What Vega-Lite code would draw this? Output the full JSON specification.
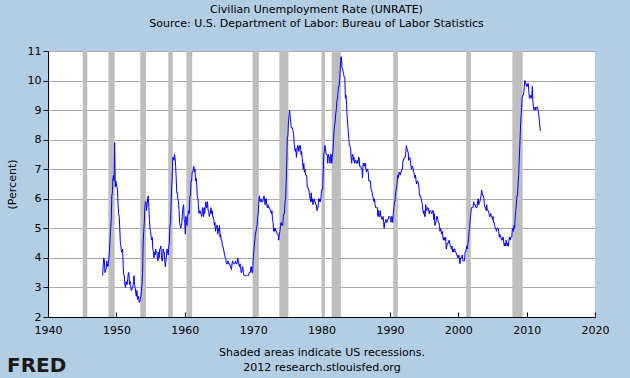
{
"$schema": "https://vega.github.io/schema/vega-lite/v6.json",
"width": 547, "height": 266,
"autosize": {"type": "none"},
"padding": {"left": 48, "top": 51, "right": 35, "bottom": 61},
"background": "#B3CDE3",
"config": {"view": {"stroke": null, "fill": "white"}, "font": "DejaVu Sans"},
"title": {"text": "Civilian Unemployment Rate (UNRATE)", "subtitle": "Source: U.S. Department of Labor: Bureau of Labor Statistics", "fontSize": 11, "fontWeight": "normal", "subtitleFontSize": 11, "color": "black", "subtitleColor": "black", "anchor": "middle", "offset": 16, "subtitlePadding": 3, "dx": -5, "font": "DejaVu Sans", "subtitleFont": "DejaVu Sans"},
"datasets": {
"rec": [
{"s":"1945-02","e":"1945-10"},{"s":"1948-11","e":"1949-10"},{"s":"1953-07","e":"1954-05"},{"s":"1957-08","e":"1958-04"},{"s":"1960-04","e":"1961-02"},{"s":"1969-12","e":"1970-11"},{"s":"1973-11","e":"1975-03"},{"s":"1980-01","e":"1980-07"},{"s":"1981-07","e":"1982-11"},{"s":"1990-07","e":"1991-03"},{"s":"2001-03","e":"2001-11"},{"s":"2007-12","e":"2009-06"}
],
"un": [
{"d":"1948-01","v":3.4},{"d":"1948-02","v":3.8},{"d":"1948-03","v":4.0},{"d":"1948-04","v":3.9},{"d":"1948-05","v":3.5},{"d":"1948-06","v":3.6},{"d":"1948-07","v":3.6},{"d":"1948-08","v":3.9},{"d":"1948-09","v":3.8},{"d":"1948-10","v":3.7},{"d":"1948-11","v":3.8},{"d":"1948-12","v":4.0},
{"d":"1949-01","v":4.3},{"d":"1949-02","v":4.7},{"d":"1949-03","v":5.0},{"d":"1949-04","v":5.3},{"d":"1949-05","v":6.1},{"d":"1949-06","v":6.2},{"d":"1949-07","v":6.7},{"d":"1949-08","v":6.8},{"d":"1949-09","v":6.6},{"d":"1949-10","v":7.9},{"d":"1949-11","v":6.4},{"d":"1949-12","v":6.6},
{"d":"1950-01","v":6.5},{"d":"1950-02","v":6.4},{"d":"1950-03","v":6.3},{"d":"1950-04","v":5.8},{"d":"1950-05","v":5.5},{"d":"1950-06","v":5.4},{"d":"1950-07","v":5.0},{"d":"1950-08","v":4.5},{"d":"1950-09","v":4.4},{"d":"1950-10","v":4.2},{"d":"1950-11","v":4.2},{"d":"1950-12","v":4.3},
{"d":"1951-01","v":3.7},{"d":"1951-02","v":3.4},{"d":"1951-03","v":3.4},{"d":"1951-04","v":3.1},{"d":"1951-05","v":3.0},{"d":"1951-06","v":3.2},{"d":"1951-07","v":3.1},{"d":"1951-08","v":3.1},{"d":"1951-09","v":3.3},{"d":"1951-10","v":3.5},{"d":"1951-11","v":3.5},{"d":"1951-12","v":3.1},
{"d":"1952-01","v":3.2},{"d":"1952-02","v":3.1},{"d":"1952-03","v":2.9},{"d":"1952-04","v":2.9},{"d":"1952-05","v":3.0},{"d":"1952-06","v":3.0},{"d":"1952-07","v":3.2},{"d":"1952-08","v":3.4},{"d":"1952-09","v":3.1},{"d":"1952-10","v":3.0},{"d":"1952-11","v":2.8},{"d":"1952-12","v":2.7},
{"d":"1953-01","v":2.9},{"d":"1953-02","v":2.6},{"d":"1953-03","v":2.6},{"d":"1953-04","v":2.7},{"d":"1953-05","v":2.5},{"d":"1953-06","v":2.5},{"d":"1953-07","v":2.6},{"d":"1953-08","v":2.7},{"d":"1953-09","v":2.9},{"d":"1953-10","v":3.1},{"d":"1953-11","v":3.5},{"d":"1953-12","v":4.5},
{"d":"1954-01","v":4.9},{"d":"1954-02","v":5.2},{"d":"1954-03","v":5.7},{"d":"1954-04","v":5.9},{"d":"1954-05","v":5.9},{"d":"1954-06","v":5.6},{"d":"1954-07","v":5.8},{"d":"1954-08","v":6.0},{"d":"1954-09","v":6.1},{"d":"1954-10","v":5.7},{"d":"1954-11","v":5.3},{"d":"1954-12","v":5.0},
{"d":"1955-01","v":4.9},{"d":"1955-02","v":4.7},{"d":"1955-03","v":4.6},{"d":"1955-04","v":4.7},{"d":"1955-05","v":4.3},{"d":"1955-06","v":4.2},{"d":"1955-07","v":4.0},{"d":"1955-08","v":4.2},{"d":"1955-09","v":4.1},{"d":"1955-10","v":4.3},{"d":"1955-11","v":4.2},{"d":"1955-12","v":4.2},
{"d":"1956-01","v":4.0},{"d":"1956-02","v":3.9},{"d":"1956-03","v":4.2},{"d":"1956-04","v":4.0},{"d":"1956-05","v":4.3},{"d":"1956-06","v":4.3},{"d":"1956-07","v":4.4},{"d":"1956-08","v":4.1},{"d":"1956-09","v":3.9},{"d":"1956-10","v":3.9},{"d":"1956-11","v":4.3},{"d":"1956-12","v":4.2},
{"d":"1957-01","v":4.2},{"d":"1957-02","v":3.9},{"d":"1957-03","v":3.7},{"d":"1957-04","v":3.9},{"d":"1957-05","v":4.1},{"d":"1957-06","v":4.3},{"d":"1957-07","v":4.2},{"d":"1957-08","v":4.1},{"d":"1957-09","v":4.4},{"d":"1957-10","v":4.5},{"d":"1957-11","v":5.1},{"d":"1957-12","v":5.2},
{"d":"1958-01","v":5.8},{"d":"1958-02","v":6.4},{"d":"1958-03","v":6.7},{"d":"1958-04","v":7.4},{"d":"1958-05","v":7.4},{"d":"1958-06","v":7.3},{"d":"1958-07","v":7.5},{"d":"1958-08","v":7.4},{"d":"1958-09","v":7.1},{"d":"1958-10","v":6.7},{"d":"1958-11","v":6.2},{"d":"1958-12","v":6.2},
{"d":"1959-01","v":6.0},{"d":"1959-02","v":5.9},{"d":"1959-03","v":5.6},{"d":"1959-04","v":5.2},{"d":"1959-05","v":5.1},{"d":"1959-06","v":5.0},{"d":"1959-07","v":5.1},{"d":"1959-08","v":5.2},{"d":"1959-09","v":5.5},{"d":"1959-10","v":5.7},{"d":"1959-11","v":5.8},{"d":"1959-12","v":5.3},
{"d":"1960-01","v":5.2},{"d":"1960-02","v":4.8},{"d":"1960-03","v":5.4},{"d":"1960-04","v":5.2},{"d":"1960-05","v":5.1},{"d":"1960-06","v":5.4},{"d":"1960-07","v":5.5},{"d":"1960-08","v":5.6},{"d":"1960-09","v":5.5},{"d":"1960-10","v":6.1},{"d":"1960-11","v":6.1},{"d":"1960-12","v":6.6},
{"d":"1961-01","v":6.6},{"d":"1961-02","v":6.9},{"d":"1961-03","v":6.9},{"d":"1961-04","v":7.0},{"d":"1961-05","v":7.1},{"d":"1961-06","v":6.9},{"d":"1961-07","v":7.0},{"d":"1961-08","v":6.6},{"d":"1961-09","v":6.7},{"d":"1961-10","v":6.5},{"d":"1961-11","v":6.1},{"d":"1961-12","v":6.0},
{"d":"1962-01","v":5.8},{"d":"1962-02","v":5.5},{"d":"1962-03","v":5.6},{"d":"1962-04","v":5.6},{"d":"1962-05","v":5.5},{"d":"1962-06","v":5.5},{"d":"1962-07","v":5.4},{"d":"1962-08","v":5.7},{"d":"1962-09","v":5.6},{"d":"1962-10","v":5.4},{"d":"1962-11","v":5.7},{"d":"1962-12","v":5.5},
{"d":"1963-01","v":5.7},{"d":"1963-02","v":5.9},{"d":"1963-03","v":5.7},{"d":"1963-04","v":5.7},{"d":"1963-05","v":5.9},{"d":"1963-06","v":5.6},{"d":"1963-07","v":5.6},{"d":"1963-08","v":5.4},{"d":"1963-09","v":5.5},{"d":"1963-10","v":5.5},{"d":"1963-11","v":5.7},{"d":"1963-12","v":5.5},
{"d":"1964-01","v":5.6},{"d":"1964-02","v":5.4},{"d":"1964-03","v":5.4},{"d":"1964-04","v":5.3},{"d":"1964-05","v":5.1},{"d":"1964-06","v":5.2},{"d":"1964-07","v":4.9},{"d":"1964-08","v":5.0},{"d":"1964-09","v":5.1},{"d":"1964-10","v":5.1},{"d":"1964-11","v":4.8},{"d":"1964-12","v":5.0},
{"d":"1965-01","v":4.9},{"d":"1965-02","v":5.1},{"d":"1965-03","v":4.7},{"d":"1965-04","v":4.8},{"d":"1965-05","v":4.6},{"d":"1965-06","v":4.6},{"d":"1965-07","v":4.4},{"d":"1965-08","v":4.4},{"d":"1965-09","v":4.3},{"d":"1965-10","v":4.2},{"d":"1965-11","v":4.1},{"d":"1965-12","v":4.0},
{"d":"1966-01","v":4.0},{"d":"1966-02","v":3.8},{"d":"1966-03","v":3.8},{"d":"1966-04","v":3.8},{"d":"1966-05","v":3.9},{"d":"1966-06","v":3.8},{"d":"1966-07","v":3.8},{"d":"1966-08","v":3.8},{"d":"1966-09","v":3.7},{"d":"1966-10","v":3.7},{"d":"1966-11","v":3.6},{"d":"1966-12","v":3.8},
{"d":"1967-01","v":3.9},{"d":"1967-02","v":3.8},{"d":"1967-03","v":3.8},{"d":"1967-04","v":3.8},{"d":"1967-05","v":3.8},{"d":"1967-06","v":3.9},{"d":"1967-07","v":3.8},{"d":"1967-08","v":3.8},{"d":"1967-09","v":3.8},{"d":"1967-10","v":4.0},{"d":"1967-11","v":3.9},{"d":"1967-12","v":3.8},
{"d":"1968-01","v":3.7},{"d":"1968-02","v":3.8},{"d":"1968-03","v":3.7},{"d":"1968-04","v":3.5},{"d":"1968-05","v":3.5},{"d":"1968-06","v":3.7},{"d":"1968-07","v":3.7},{"d":"1968-08","v":3.5},{"d":"1968-09","v":3.4},{"d":"1968-10","v":3.4},{"d":"1968-11","v":3.4},{"d":"1968-12","v":3.4},
{"d":"1969-01","v":3.4},{"d":"1969-02","v":3.4},{"d":"1969-03","v":3.4},{"d":"1969-04","v":3.4},{"d":"1969-05","v":3.4},{"d":"1969-06","v":3.5},{"d":"1969-07","v":3.5},{"d":"1969-08","v":3.5},{"d":"1969-09","v":3.7},{"d":"1969-10","v":3.7},{"d":"1969-11","v":3.5},{"d":"1969-12","v":3.5},
{"d":"1970-01","v":3.9},{"d":"1970-02","v":4.2},{"d":"1970-03","v":4.4},{"d":"1970-04","v":4.6},{"d":"1970-05","v":4.8},{"d":"1970-06","v":4.9},{"d":"1970-07","v":5.0},{"d":"1970-08","v":5.1},{"d":"1970-09","v":5.4},{"d":"1970-10","v":5.5},{"d":"1970-11","v":5.9},{"d":"1970-12","v":6.1},
{"d":"1971-01","v":5.9},{"d":"1971-02","v":5.9},{"d":"1971-03","v":6.0},{"d":"1971-04","v":5.9},{"d":"1971-05","v":5.9},{"d":"1971-06","v":5.9},{"d":"1971-07","v":6.0},{"d":"1971-08","v":6.1},{"d":"1971-09","v":6.0},{"d":"1971-10","v":5.8},{"d":"1971-11","v":6.0},{"d":"1971-12","v":6.0},
{"d":"1972-01","v":5.8},{"d":"1972-02","v":5.7},{"d":"1972-03","v":5.8},{"d":"1972-04","v":5.7},{"d":"1972-05","v":5.7},{"d":"1972-06","v":5.7},{"d":"1972-07","v":5.6},{"d":"1972-08","v":5.6},{"d":"1972-09","v":5.5},{"d":"1972-10","v":5.6},{"d":"1972-11","v":5.3},{"d":"1972-12","v":5.2},
{"d":"1973-01","v":4.9},{"d":"1973-02","v":5.0},{"d":"1973-03","v":4.9},{"d":"1973-04","v":5.0},{"d":"1973-05","v":4.9},{"d":"1973-06","v":4.9},{"d":"1973-07","v":4.8},{"d":"1973-08","v":4.8},{"d":"1973-09","v":4.8},{"d":"1973-10","v":4.6},{"d":"1973-11","v":4.8},{"d":"1973-12","v":4.9},
{"d":"1974-01","v":5.1},{"d":"1974-02","v":5.2},{"d":"1974-03","v":5.1},{"d":"1974-04","v":5.1},{"d":"1974-05","v":5.1},{"d":"1974-06","v":5.4},{"d":"1974-07","v":5.5},{"d":"1974-08","v":5.5},{"d":"1974-09","v":5.9},{"d":"1974-10","v":6.0},{"d":"1974-11","v":6.6},{"d":"1974-12","v":7.2},
{"d":"1975-01","v":8.1},{"d":"1975-02","v":8.1},{"d":"1975-03","v":8.6},{"d":"1975-04","v":8.8},{"d":"1975-05","v":9.0},{"d":"1975-06","v":8.8},{"d":"1975-07","v":8.6},{"d":"1975-08","v":8.4},{"d":"1975-09","v":8.4},{"d":"1975-10","v":8.4},{"d":"1975-11","v":8.3},{"d":"1975-12","v":8.2},
{"d":"1976-01","v":7.9},{"d":"1976-02","v":7.7},{"d":"1976-03","v":7.6},{"d":"1976-04","v":7.7},{"d":"1976-05","v":7.4},{"d":"1976-06","v":7.6},{"d":"1976-07","v":7.8},{"d":"1976-08","v":7.8},{"d":"1976-09","v":7.6},{"d":"1976-10","v":7.7},{"d":"1976-11","v":7.8},{"d":"1976-12","v":7.8},
{"d":"1977-01","v":7.5},{"d":"1977-02","v":7.6},{"d":"1977-03","v":7.4},{"d":"1977-04","v":7.2},{"d":"1977-05","v":7.0},{"d":"1977-06","v":7.2},{"d":"1977-07","v":6.9},{"d":"1977-08","v":7.0},{"d":"1977-09","v":6.8},{"d":"1977-10","v":6.8},{"d":"1977-11","v":6.8},{"d":"1977-12","v":6.4},
{"d":"1978-01","v":6.4},{"d":"1978-02","v":6.3},{"d":"1978-03","v":6.3},{"d":"1978-04","v":6.1},{"d":"1978-05","v":6.0},{"d":"1978-06","v":5.9},{"d":"1978-07","v":6.2},{"d":"1978-08","v":5.9},{"d":"1978-09","v":6.0},{"d":"1978-10","v":5.8},{"d":"1978-11","v":5.9},{"d":"1978-12","v":6.0},
{"d":"1979-01","v":5.9},{"d":"1979-02","v":5.9},{"d":"1979-03","v":5.8},{"d":"1979-04","v":5.8},{"d":"1979-05","v":5.6},{"d":"1979-06","v":5.7},{"d":"1979-07","v":5.7},{"d":"1979-08","v":6.0},{"d":"1979-09","v":5.9},{"d":"1979-10","v":6.0},{"d":"1979-11","v":5.9},{"d":"1979-12","v":6.0},
{"d":"1980-01","v":6.3},{"d":"1980-02","v":6.3},{"d":"1980-03","v":6.3},{"d":"1980-04","v":6.9},{"d":"1980-05","v":7.5},{"d":"1980-06","v":7.6},{"d":"1980-07","v":7.8},{"d":"1980-08","v":7.7},{"d":"1980-09","v":7.5},{"d":"1980-10","v":7.5},{"d":"1980-11","v":7.5},{"d":"1980-12","v":7.2},
{"d":"1981-01","v":7.5},{"d":"1981-02","v":7.4},{"d":"1981-03","v":7.4},{"d":"1981-04","v":7.2},{"d":"1981-05","v":7.5},{"d":"1981-06","v":7.5},{"d":"1981-07","v":7.2},{"d":"1981-08","v":7.4},{"d":"1981-09","v":7.6},{"d":"1981-10","v":7.9},{"d":"1981-11","v":8.3},{"d":"1981-12","v":8.5},
{"d":"1982-01","v":8.6},{"d":"1982-02","v":8.9},{"d":"1982-03","v":9.0},{"d":"1982-04","v":9.3},{"d":"1982-05","v":9.4},{"d":"1982-06","v":9.6},{"d":"1982-07","v":9.8},{"d":"1982-08","v":9.8},{"d":"1982-09","v":10.1},{"d":"1982-10","v":10.4},{"d":"1982-11","v":10.8},{"d":"1982-12","v":10.8},
{"d":"1983-01","v":10.4},{"d":"1983-02","v":10.4},{"d":"1983-03","v":10.3},{"d":"1983-04","v":10.2},{"d":"1983-05","v":10.1},{"d":"1983-06","v":10.1},{"d":"1983-07","v":9.4},{"d":"1983-08","v":9.5},{"d":"1983-09","v":9.2},{"d":"1983-10","v":8.8},{"d":"1983-11","v":8.5},{"d":"1983-12","v":8.3},
{"d":"1984-01","v":8.0},{"d":"1984-02","v":7.8},{"d":"1984-03","v":7.8},{"d":"1984-04","v":7.7},{"d":"1984-05","v":7.4},{"d":"1984-06","v":7.2},{"d":"1984-07","v":7.5},{"d":"1984-08","v":7.5},{"d":"1984-09","v":7.3},{"d":"1984-10","v":7.4},{"d":"1984-11","v":7.2},{"d":"1984-12","v":7.3},
{"d":"1985-01","v":7.3},{"d":"1985-02","v":7.2},{"d":"1985-03","v":7.2},{"d":"1985-04","v":7.3},{"d":"1985-05","v":7.2},{"d":"1985-06","v":7.4},{"d":"1985-07","v":7.4},{"d":"1985-08","v":7.1},{"d":"1985-09","v":7.1},{"d":"1985-10","v":7.1},{"d":"1985-11","v":7.0},{"d":"1985-12","v":7.0},
{"d":"1986-01","v":6.7},{"d":"1986-02","v":7.2},{"d":"1986-03","v":7.2},{"d":"1986-04","v":7.1},{"d":"1986-05","v":7.2},{"d":"1986-06","v":7.2},{"d":"1986-07","v":7.0},{"d":"1986-08","v":6.9},{"d":"1986-09","v":7.0},{"d":"1986-10","v":7.0},{"d":"1986-11","v":6.9},{"d":"1986-12","v":6.6},
{"d":"1987-01","v":6.6},{"d":"1987-02","v":6.6},{"d":"1987-03","v":6.6},{"d":"1987-04","v":6.3},{"d":"1987-05","v":6.3},{"d":"1987-06","v":6.2},{"d":"1987-07","v":6.1},{"d":"1987-08","v":6.0},{"d":"1987-09","v":5.9},{"d":"1987-10","v":6.0},{"d":"1987-11","v":5.8},{"d":"1987-12","v":5.7},
{"d":"1988-01","v":5.7},{"d":"1988-02","v":5.7},{"d":"1988-03","v":5.7},{"d":"1988-04","v":5.4},{"d":"1988-05","v":5.6},{"d":"1988-06","v":5.4},{"d":"1988-07","v":5.4},{"d":"1988-08","v":5.6},{"d":"1988-09","v":5.4},{"d":"1988-10","v":5.4},{"d":"1988-11","v":5.3},{"d":"1988-12","v":5.3},
{"d":"1989-01","v":5.4},{"d":"1989-02","v":5.2},{"d":"1989-03","v":5.0},{"d":"1989-04","v":5.2},{"d":"1989-05","v":5.2},{"d":"1989-06","v":5.3},{"d":"1989-07","v":5.2},{"d":"1989-08","v":5.2},{"d":"1989-09","v":5.3},{"d":"1989-10","v":5.3},{"d":"1989-11","v":5.4},{"d":"1989-12","v":5.4},
{"d":"1990-01","v":5.4},{"d":"1990-02","v":5.3},{"d":"1990-03","v":5.2},{"d":"1990-04","v":5.4},{"d":"1990-05","v":5.4},{"d":"1990-06","v":5.2},{"d":"1990-07","v":5.5},{"d":"1990-08","v":5.7},{"d":"1990-09","v":5.9},{"d":"1990-10","v":5.9},{"d":"1990-11","v":6.2},{"d":"1990-12","v":6.3},
{"d":"1991-01","v":6.4},{"d":"1991-02","v":6.6},{"d":"1991-03","v":6.8},{"d":"1991-04","v":6.7},{"d":"1991-05","v":6.9},{"d":"1991-06","v":6.9},{"d":"1991-07","v":6.8},{"d":"1991-08","v":6.9},{"d":"1991-09","v":6.9},{"d":"1991-10","v":7.0},{"d":"1991-11","v":7.0},{"d":"1991-12","v":7.3},
{"d":"1992-01","v":7.3},{"d":"1992-02","v":7.4},{"d":"1992-03","v":7.4},{"d":"1992-04","v":7.4},{"d":"1992-05","v":7.6},{"d":"1992-06","v":7.8},{"d":"1992-07","v":7.7},{"d":"1992-08","v":7.6},{"d":"1992-09","v":7.6},{"d":"1992-10","v":7.3},{"d":"1992-11","v":7.4},{"d":"1992-12","v":7.4},
{"d":"1993-01","v":7.3},{"d":"1993-02","v":7.1},{"d":"1993-03","v":7.0},{"d":"1993-04","v":7.1},{"d":"1993-05","v":7.1},{"d":"1993-06","v":7.0},{"d":"1993-07","v":6.9},{"d":"1993-08","v":6.8},{"d":"1993-09","v":6.7},{"d":"1993-10","v":6.8},{"d":"1993-11","v":6.6},{"d":"1993-12","v":6.5},
{"d":"1994-01","v":6.6},{"d":"1994-02","v":6.6},{"d":"1994-03","v":6.5},{"d":"1994-04","v":6.4},{"d":"1994-05","v":6.1},{"d":"1994-06","v":6.1},{"d":"1994-07","v":6.1},{"d":"1994-08","v":6.0},{"d":"1994-09","v":5.9},{"d":"1994-10","v":5.8},{"d":"1994-11","v":5.6},{"d":"1994-12","v":5.5},
{"d":"1995-01","v":5.6},{"d":"1995-02","v":5.4},{"d":"1995-03","v":5.4},{"d":"1995-04","v":5.8},{"d":"1995-05","v":5.6},{"d":"1995-06","v":5.6},{"d":"1995-07","v":5.7},{"d":"1995-08","v":5.7},{"d":"1995-09","v":5.6},{"d":"1995-10","v":5.5},{"d":"1995-11","v":5.6},{"d":"1995-12","v":5.6},
{"d":"1996-01","v":5.6},{"d":"1996-02","v":5.5},{"d":"1996-03","v":5.5},{"d":"1996-04","v":5.6},{"d":"1996-05","v":5.6},{"d":"1996-06","v":5.3},{"d":"1996-07","v":5.5},{"d":"1996-08","v":5.1},{"d":"1996-09","v":5.2},{"d":"1996-10","v":5.2},{"d":"1996-11","v":5.4},{"d":"1996-12","v":5.4},
{"d":"1997-01","v":5.3},{"d":"1997-02","v":5.2},{"d":"1997-03","v":5.2},{"d":"1997-04","v":5.1},{"d":"1997-05","v":4.9},{"d":"1997-06","v":5.0},{"d":"1997-07","v":4.9},{"d":"1997-08","v":4.8},{"d":"1997-09","v":4.9},{"d":"1997-10","v":4.7},{"d":"1997-11","v":4.6},{"d":"1997-12","v":4.7},
{"d":"1998-01","v":4.6},{"d":"1998-02","v":4.6},{"d":"1998-03","v":4.7},{"d":"1998-04","v":4.3},{"d":"1998-05","v":4.4},{"d":"1998-06","v":4.5},{"d":"1998-07","v":4.5},{"d":"1998-08","v":4.5},{"d":"1998-09","v":4.6},{"d":"1998-10","v":4.5},{"d":"1998-11","v":4.4},{"d":"1998-12","v":4.4},
{"d":"1999-01","v":4.3},{"d":"1999-02","v":4.4},{"d":"1999-03","v":4.2},{"d":"1999-04","v":4.3},{"d":"1999-05","v":4.2},{"d":"1999-06","v":4.3},{"d":"1999-07","v":4.3},{"d":"1999-08","v":4.2},{"d":"1999-09","v":4.2},{"d":"1999-10","v":4.1},{"d":"1999-11","v":4.1},{"d":"1999-12","v":4.0},
{"d":"2000-01","v":4.0},{"d":"2000-02","v":4.1},{"d":"2000-03","v":4.0},{"d":"2000-04","v":3.8},{"d":"2000-05","v":4.0},{"d":"2000-06","v":4.0},{"d":"2000-07","v":4.0},{"d":"2000-08","v":4.1},{"d":"2000-09","v":3.9},{"d":"2000-10","v":3.9},{"d":"2000-11","v":3.9},{"d":"2000-12","v":3.9},
{"d":"2001-01","v":4.2},{"d":"2001-02","v":4.2},{"d":"2001-03","v":4.3},{"d":"2001-04","v":4.4},{"d":"2001-05","v":4.3},{"d":"2001-06","v":4.5},{"d":"2001-07","v":4.6},{"d":"2001-08","v":4.9},{"d":"2001-09","v":5.0},{"d":"2001-10","v":5.3},{"d":"2001-11","v":5.5},{"d":"2001-12","v":5.7},
{"d":"2002-01","v":5.7},{"d":"2002-02","v":5.7},{"d":"2002-03","v":5.7},{"d":"2002-04","v":5.9},{"d":"2002-05","v":5.8},{"d":"2002-06","v":5.8},{"d":"2002-07","v":5.8},{"d":"2002-08","v":5.7},{"d":"2002-09","v":5.7},{"d":"2002-10","v":5.7},{"d":"2002-11","v":5.9},{"d":"2002-12","v":6.0},
{"d":"2003-01","v":5.8},{"d":"2003-02","v":5.9},{"d":"2003-03","v":5.9},{"d":"2003-04","v":6.0},{"d":"2003-05","v":6.1},{"d":"2003-06","v":6.3},{"d":"2003-07","v":6.2},{"d":"2003-08","v":6.1},{"d":"2003-09","v":6.1},{"d":"2003-10","v":6.0},{"d":"2003-11","v":5.8},{"d":"2003-12","v":5.7},
{"d":"2004-01","v":5.7},{"d":"2004-02","v":5.6},{"d":"2004-03","v":5.8},{"d":"2004-04","v":5.6},{"d":"2004-05","v":5.6},{"d":"2004-06","v":5.6},{"d":"2004-07","v":5.5},{"d":"2004-08","v":5.4},{"d":"2004-09","v":5.4},{"d":"2004-10","v":5.5},{"d":"2004-11","v":5.4},{"d":"2004-12","v":5.4},
{"d":"2005-01","v":5.3},{"d":"2005-02","v":5.4},{"d":"2005-03","v":5.2},{"d":"2005-04","v":5.2},{"d":"2005-05","v":5.1},{"d":"2005-06","v":5.0},{"d":"2005-07","v":5.0},{"d":"2005-08","v":4.9},{"d":"2005-09","v":5.0},{"d":"2005-10","v":5.0},{"d":"2005-11","v":5.0},{"d":"2005-12","v":4.9},
{"d":"2006-01","v":4.7},{"d":"2006-02","v":4.8},{"d":"2006-03","v":4.7},{"d":"2006-04","v":4.7},{"d":"2006-05","v":4.6},{"d":"2006-06","v":4.6},{"d":"2006-07","v":4.7},{"d":"2006-08","v":4.7},{"d":"2006-09","v":4.5},{"d":"2006-10","v":4.4},{"d":"2006-11","v":4.5},{"d":"2006-12","v":4.4},
{"d":"2007-01","v":4.6},{"d":"2007-02","v":4.5},{"d":"2007-03","v":4.4},{"d":"2007-04","v":4.5},{"d":"2007-05","v":4.4},{"d":"2007-06","v":4.6},{"d":"2007-07","v":4.7},{"d":"2007-08","v":4.6},{"d":"2007-09","v":4.7},{"d":"2007-10","v":4.7},{"d":"2007-11","v":4.7},{"d":"2007-12","v":5.0},
{"d":"2008-01","v":5.0},{"d":"2008-02","v":4.9},{"d":"2008-03","v":5.1},{"d":"2008-04","v":5.0},{"d":"2008-05","v":5.4},{"d":"2008-06","v":5.6},{"d":"2008-07","v":5.8},{"d":"2008-08","v":6.1},{"d":"2008-09","v":6.1},{"d":"2008-10","v":6.5},{"d":"2008-11","v":6.8},{"d":"2008-12","v":7.3},
{"d":"2009-01","v":7.8},{"d":"2009-02","v":8.3},{"d":"2009-03","v":8.7},{"d":"2009-04","v":9.0},{"d":"2009-05","v":9.4},{"d":"2009-06","v":9.5},{"d":"2009-07","v":9.5},{"d":"2009-08","v":9.6},{"d":"2009-09","v":9.8},{"d":"2009-10","v":10.0},{"d":"2009-11","v":9.9},{"d":"2009-12","v":9.9},
{"d":"2010-01","v":9.8},{"d":"2010-02","v":9.8},{"d":"2010-03","v":9.9},{"d":"2010-04","v":9.9},{"d":"2010-05","v":9.6},{"d":"2010-06","v":9.4},{"d":"2010-07","v":9.4},{"d":"2010-08","v":9.5},{"d":"2010-09","v":9.5},{"d":"2010-10","v":9.4},{"d":"2010-11","v":9.8},{"d":"2010-12","v":9.3},
{"d":"2011-01","v":9.1},{"d":"2011-02","v":9.0},{"d":"2011-03","v":9.0},{"d":"2011-04","v":9.1},{"d":"2011-05","v":9.0},{"d":"2011-06","v":9.1},{"d":"2011-07","v":9.1},{"d":"2011-08","v":9.1},{"d":"2011-09","v":9.0},{"d":"2011-10","v":8.9},{"d":"2011-11","v":8.7},{"d":"2011-12","v":8.5},
{"d":"2012-01","v":8.3}
],
"logo": [{"t":"FRED"}]
},
"layer": [
{"data": {"name": "rec"}, "mark": {"type": "rect", "color": "#BEBEBE", "opacity": 1},
 "encoding": {
  "x": {"field": "s", "type": "temporal", "scale": {"domain": [{"year": 1940}, {"year": 2020}]},
   "axis": {"title": ["Shaded areas indicate US recessions.", "2012 research.stlouisfed.org"], "values": [{"year":1940},{"year":1950},{"year":1960},{"year":1970},{"year":1980},{"year":1990},{"year":2000},{"year":2010},{"year":2020}], "format": "%Y", "grid": false, "domainColor": "black", "tickColor": "black", "tickSize": -5, "labelPadding": 12, "labelFontSize": 11, "labelColor": "black", "labelFont": "DejaVu Sans", "labelFlush": false, "labelOverlap": false, "titleFontSize": 11, "titleFontWeight": "normal", "titleColor": "black", "titleFont": "DejaVu Sans", "titlePadding": 11, "titleLineHeight": 15}},
  "x2": {"field": "e"}
 }},
{"data": {"name": "un"}, "mark": {"type": "line", "color": "#0000FF", "strokeWidth": 1},
 "encoding": {
  "x": {"field": "d", "type": "temporal"},
  "y": {"field": "v", "type": "quantitative", "scale": {"domain": [2, 11], "nice": false, "zero": false},
   "axis": {"values": [2,3,4,5,6,7,8,9,10,11], "tickCount": 10, "format": "d", "title": "(Percent)", "grid": true, "gridColor": "#AAAAAA", "gridOpacity": 1, "domainColor": "black", "tickColor": "black", "tickSize": 5, "labelPadding": 2, "labelFontSize": 11, "labelColor": "black", "labelFont": "DejaVu Sans", "labelOverlap": false, "labelFlush": false, "titleFontSize": 11, "titleFontWeight": "normal", "titleColor": "black", "titleFont": "DejaVu Sans", "titlePadding": 10}}
 }},
{"data": {"name": "logo"}, "mark": {"type": "text", "fontSize": 20, "fontWeight": "bold", "font": "DejaVu Sans", "align": "left", "baseline": "middle", "color": "#1A1A1A"},
 "encoding": {
  "x": {"datum": {"year": 1934}, "type": "temporal"},
  "y": {"datum": 0.35, "type": "quantitative", "axis": {"values": [2,3,4,5,6,7,8,9,10,11], "tickCount": 10, "format": "d", "title": "(Percent)", "grid": true, "gridColor": "#AAAAAA", "gridOpacity": 1, "domainColor": "black", "tickColor": "black", "tickSize": 5, "labelPadding": 2, "labelFontSize": 11, "labelColor": "black", "labelFont": "DejaVu Sans", "labelOverlap": false, "labelFlush": false, "titleFontSize": 11, "titleFontWeight": "normal", "titleColor": "black", "titleFont": "DejaVu Sans", "titlePadding": 10}},
  "text": {"field": "t"}
 }}
]
}
